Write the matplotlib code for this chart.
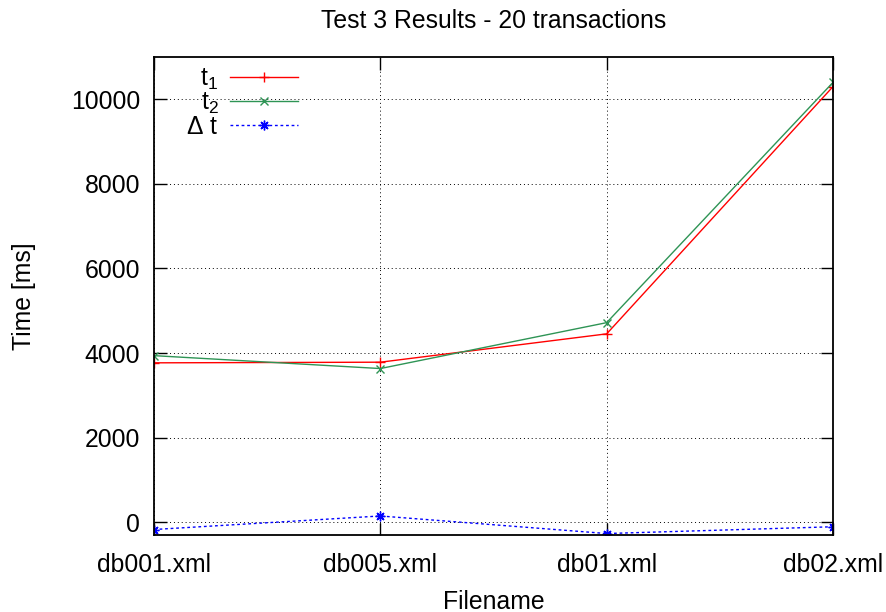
import matplotlib.pyplot as plt

plt.rcParams['font.family'] = ['Liberation Sans', 'DejaVu Sans']
fs = 17.8

files = ['db001.xml', 'db005.xml', 'db01.xml', 'db02.xml']
t1 = [3770, 3785, 4455, 10300]
t2 = [3940, 3635, 4720, 10400]
dt = [-170, 150, -265, -105]
yticks = [0, 2000, 4000, 6000, 8000, 10000]

fig = plt.figure(figsize=(8.86, 6.12), dpi=100)
ax = fig.add_axes([0.1738, 0.1258, 0.7664, 0.7811])

x = list(range(len(files)))
ax.plot(x, t1, color='#ff0000', lw=1.0, marker='+', ms=7, mew=1.0,
        label='t$_\\mathregular{1}$')
ax.plot(x, t2, color='#2e9455', lw=1.0, marker='x', ms=6, mew=1.0,
        label='t$_\\mathregular{2}$')
ax.plot(x, dt, color='#0000ff', lw=1.0, ls=(0, (2, 2)), marker=(8, 2, 0),
        ms=7, mew=1.0, label='$\\mathregular{\\Delta}$ t')

ax.set_xlim(0, 3)
ax.set_ylim(-300, 11000)
ax.set_xticks(x)
ax.set_xticklabels(files)
ax.set_yticks(yticks)

ax.grid(True, color='black', lw=0.7, ls=(0, (1, 3)))
ax.tick_params(direction='in', length=9, width=1, top=True, right=True,
               labelsize=fs)
ax.tick_params(axis='x', pad=13)
ax.tick_params(axis='y', pad=10)
for s in ax.spines.values():
    s.set_linewidth(1.3)

ax.set_title('Test 3 Results - 20 transactions', fontsize=fs, pad=21)
ax.set_xlabel('Filename', fontsize=fs, labelpad=9)
ax.set_ylabel('Time [ms]', fontsize=fs, labelpad=25)

ax.legend(loc='upper right', bbox_to_anchor=(0.2297, 1.005), frameon=False,
          markerfirst=False, borderpad=0, labelspacing=-0.05,
          handlelength=2.75, handletextpad=0.45, fontsize=fs)

fig.savefig('out.png', dpi=100)
